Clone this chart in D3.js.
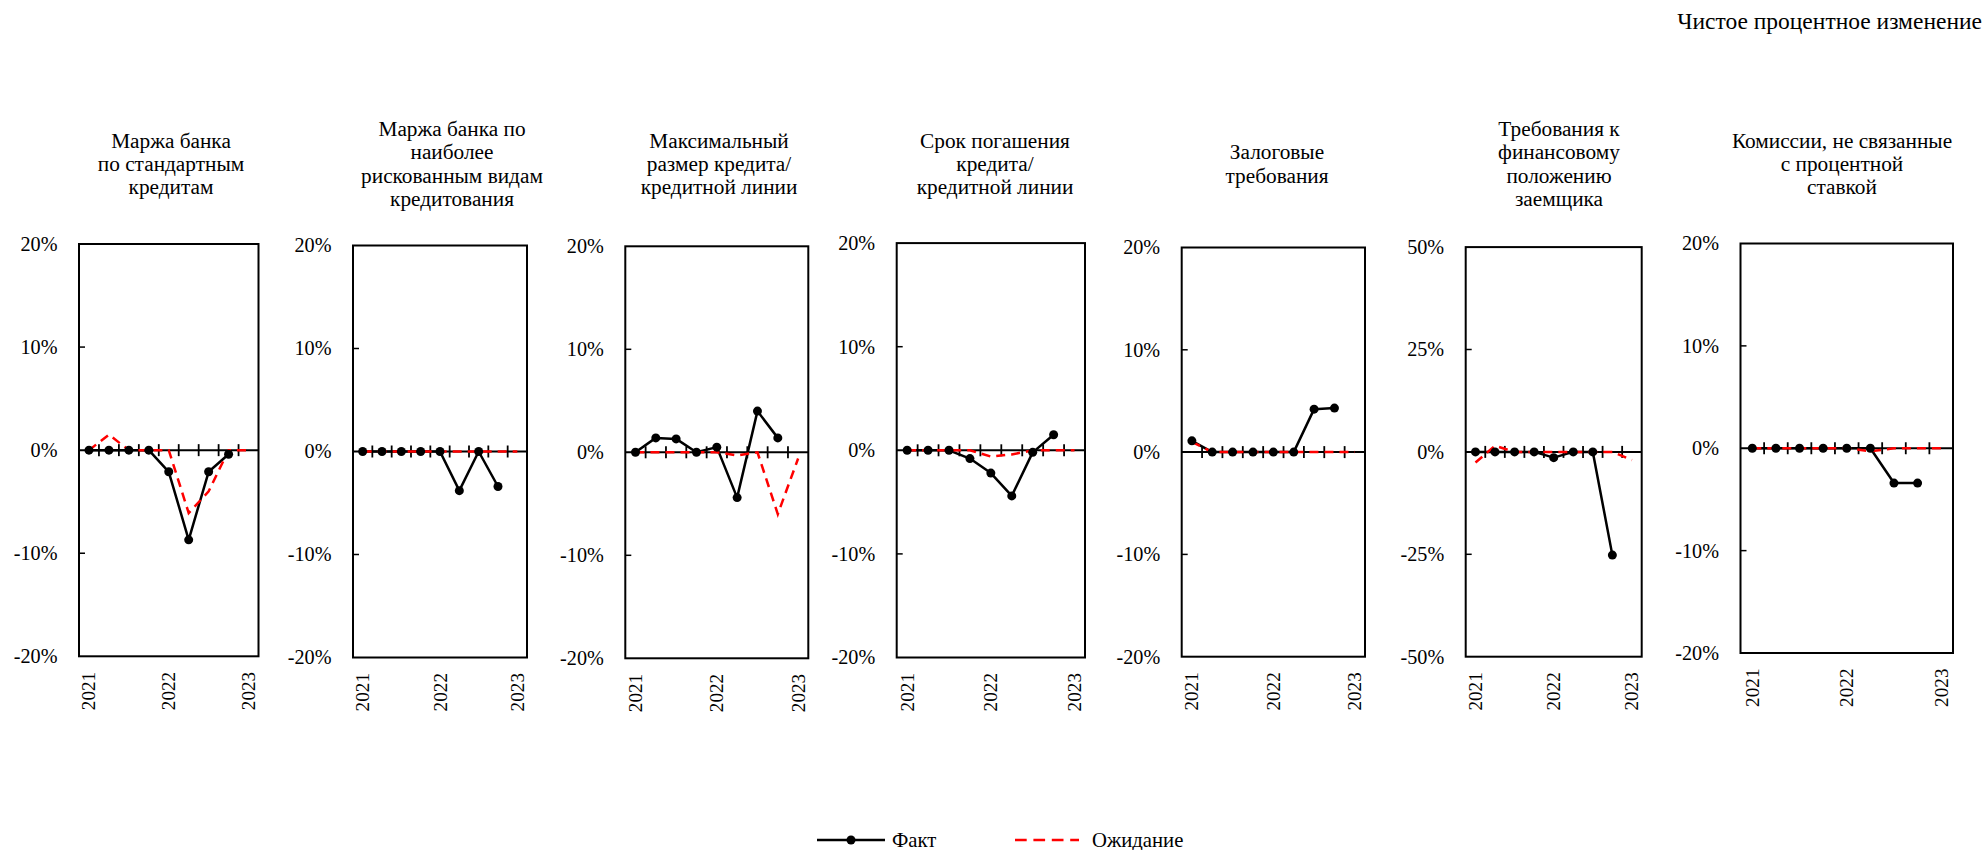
<!DOCTYPE html>
<html><head><meta charset="utf-8">
<script src="https://cdn.jsdelivr.net/npm/d3@7"></script>
<style>
html,body{margin:0;padding:0;background:#fff;}
svg{display:block;font-family:"Liberation Serif","Times New Roman",serif;}
svg text{font-family:"Liberation Serif","Times New Roman",serif;}
</style></head>
<body>
<svg id="chart" width="1986" height="850"></svg>
<script>
// ---------- DATA ----------
const quarters = ["2021 Q1","2021 Q2","2021 Q3","2021 Q4","2022 Q1","2022 Q2","2022 Q3","2022 Q4","2023 Q1"];
const yearTicks = [{q:"2021 Q1", label:"2021"},{q:"2022 Q1", label:"2022"},{q:"2023 Q1", label:"2023"}];

const titles = [
  ["Маржа банка","по стандартным","кредитам"],
  ["Маржа банка по","наиболее","рискованным видам","кредитования"],
  ["Максимальный","размер кредита/","кредитной линии"],
  ["Срок погашения","кредита/","кредитной линии"],
  ["Залоговые","требования"],
  ["Требования к","финансовому","положению","заемщика"],
  ["Комиссии, не связанные","с процентной","ставкой"]
];

const fact1 = [0, 0, 0, 0, -2.1, -8.7, -2.1, -0.4];
const exp1  = [0, 1.5, 0, 0, 0, -6.1, -4.0, 0, 0];
const fact2 = [0, 0, 0, 0, 0, -3.8, 0, -3.4];
const exp2  = [0, 0, 0, 0, 0, 0, 0, 0, 0];
const fact3 = [0, 1.4, 1.3, 0, 0.5, -4.4, 4.0, 1.4];
const exp3  = [0, 0, 0, 0, 0, -0.3, 0, -6.0, -0.6];
const fact4 = [0, 0, 0, -0.8, -2.2, -4.4, -0.2, 1.5];
const exp4  = [0, 0, 0, 0, -0.6, -0.4, 0, 0, 0];
const fact5 = [1.1, 0, 0, 0, 0, 0, 4.2, 4.3];
const exp5  = [1.0, 0, 0, 0, 0, 0, 0, 0, 0];
const fact6 = [0, 0, 0, 0, -1.4, 0, 0, -25.2];
const exp6  = [-2.6, 1.5, 0, 0, 0, 0, 0, 0, -2.0];
const fact7 = [0, 0, 0, 0, 0, 0, -3.4, -3.4];
const exp7  = [0, 0, 0, 0, 0, -0.3, 0, 0, 0];

const facts = [fact1, fact2, fact3, fact4, fact5, fact6, fact7];
const exps  = [exp1, exp2, exp3, exp4, exp5, exp6, exp7];

const yDomains = [[-20,20],[-20,20],[-20,20],[-20,20],[-20,20],[-50,50],[-20,20]];
const yTickVals = [[-20,-10,0,10,20],[-20,-10,0,10,20],[-20,-10,0,10,20],[-20,-10,0,10,20],[-20,-10,0,10,20],[-50,-25,0,25,50],[-20,-10,0,10,20]];

const legendLabels = ["Факт","Ожидание"];
const unitLabel = "Чистое процентное изменение";

// ---------- LAYOUT ----------
const boxLeft   = [79, 353, 625.3, 896.7, 1181.7, 1465.7, 1740.5];
const boxRight  = [258.5, 527, 808.3, 1085, 1365, 1641.7, 1953];
const boxTop    = [244, 245.5, 246.3, 243.1, 247.5, 247.1, 243.5];
const boxBottom = [656.3, 657.5, 658.3, 657.5, 656.7, 656.7, 653];
const titleX    = [171, 452, 719, 995, 1277, 1559, 1842];
const titleMidY = 164;
const titleLineH = 23.2;

const svg = d3.select("#chart");
const TITLE_FONT = 21.3;
const AXIS_FONT = 20.2;
const YEAR_FONT = 19.2;

svg.append("text").attr("x", 1982).attr("y", 29).attr("text-anchor","end")
  .attr("font-size", 23.5).attr("fill","#000").text(unitLabel);

facts.forEach((fact, i) => {
  const g = svg.append("g");
  const x = d3.scalePoint().domain(quarters).range([boxLeft[i], boxRight[i]]).padding(0.5);
  const y = d3.scaleLinear().domain(yDomains[i]).range([boxBottom[i], boxTop[i]]);
  const step = x.step();

  // title
  const lines = titles[i];
  const startY = titleMidY - (lines.length - 1) * titleLineH / 2 + 7;
  const t = g.append("text").attr("text-anchor","middle").attr("font-size", TITLE_FONT).attr("fill","#000");
  lines.forEach((l, k) => t.append("tspan").attr("x", titleX[i]).attr("y", startY + k * titleLineH).text(l));

  // y axis labels and inner ticks
  const yAxis = d3.axisLeft(y).tickValues(yTickVals[i]).tickSize(0).tickPadding(21.5)
    .tickFormat(d => d + "%");
  const ya = g.append("g").attr("transform", `translate(${boxLeft[i]},0)`).call(yAxis)
    .attr("font-family", "Liberation Serif").attr("font-size", AXIS_FONT);
  ya.select(".domain").remove();
  ya.selectAll("text").attr("fill","#000");
  yTickVals[i].filter(v => v !== 0 && v !== yDomains[i][0] && v !== yDomains[i][1]).forEach(v => {
    g.append("line").attr("x1", boxLeft[i]).attr("x2", boxLeft[i] + 6)
      .attr("y1", y(v)).attr("y2", y(v)).attr("stroke","#000").attr("stroke-width",1.5);
  });

  // box
  g.append("rect").attr("x", boxLeft[i]).attr("y", boxTop[i])
    .attr("width", boxRight[i] - boxLeft[i]).attr("height", boxBottom[i] - boxTop[i])
    .attr("fill","none").attr("stroke","#000").attr("stroke-width",2);

  // zero line with cross ticks at category boundaries
  const y0 = y(0);
  g.append("line").attr("x1", boxLeft[i]).attr("x2", boxRight[i]).attr("y1", y0).attr("y2", y0)
    .attr("stroke","#000").attr("stroke-width",2);
  quarters.slice(1).forEach(q => {
    const bx = x(q) - step / 2;
    g.append("line").attr("x1", bx).attr("x2", bx).attr("y1", y0 - 6).attr("y2", y0 + 6)
      .attr("stroke","#000").attr("stroke-width",1.8);
  });

  // year labels
  yearTicks.forEach(yt => {
    g.append("text").attr("transform", `translate(${x(yt.q)},${boxBottom[i] + 15.5}) rotate(-90)`)
      .attr("text-anchor","end").attr("dominant-baseline","central")
      .attr("font-size", YEAR_FONT).attr("fill","#000").text(yt.label);
  });

  const line = d3.line().x((d, k) => x(quarters[k])).y(d => y(d));

  // fact line
  g.append("path").datum(fact).attr("d", line).attr("fill","none")
    .attr("stroke","#000").attr("stroke-width",2.5).attr("stroke-linejoin","round");
  // expectation dashed
  g.append("path").datum(exps[i]).attr("d", line).attr("fill","none")
    .attr("stroke","#ff0000").attr("stroke-width",2.5).attr("stroke-dasharray","9,6");
  // fact markers
  g.selectAll("circle.f").data(fact).enter().append("circle")
    .attr("cx", (d, k) => x(quarters[k])).attr("cy", d => y(d)).attr("r", 4.5).attr("fill","#000");
});

// legend
const lg = svg.append("g");
lg.append("line").attr("x1", 817).attr("x2", 885).attr("y1", 840).attr("y2", 840)
  .attr("stroke","#000").attr("stroke-width",2.5);
lg.append("circle").attr("cx", 851).attr("cy", 840).attr("r", 4.5).attr("fill","#000");
lg.append("text").attr("x", 892).attr("y", 847).attr("font-size", 20.7).attr("fill","#000").text(legendLabels[0]);
lg.append("line").attr("x1", 1015).attr("x2", 1079).attr("y1", 840).attr("y2", 840)
  .attr("stroke","#ff0000").attr("stroke-width",2.5).attr("stroke-dasharray","11.7,6.7");
lg.append("text").attr("x", 1092).attr("y", 847).attr("font-size", 20.7).attr("fill","#000").text(legendLabels[1]);
</script>
</body></html>
